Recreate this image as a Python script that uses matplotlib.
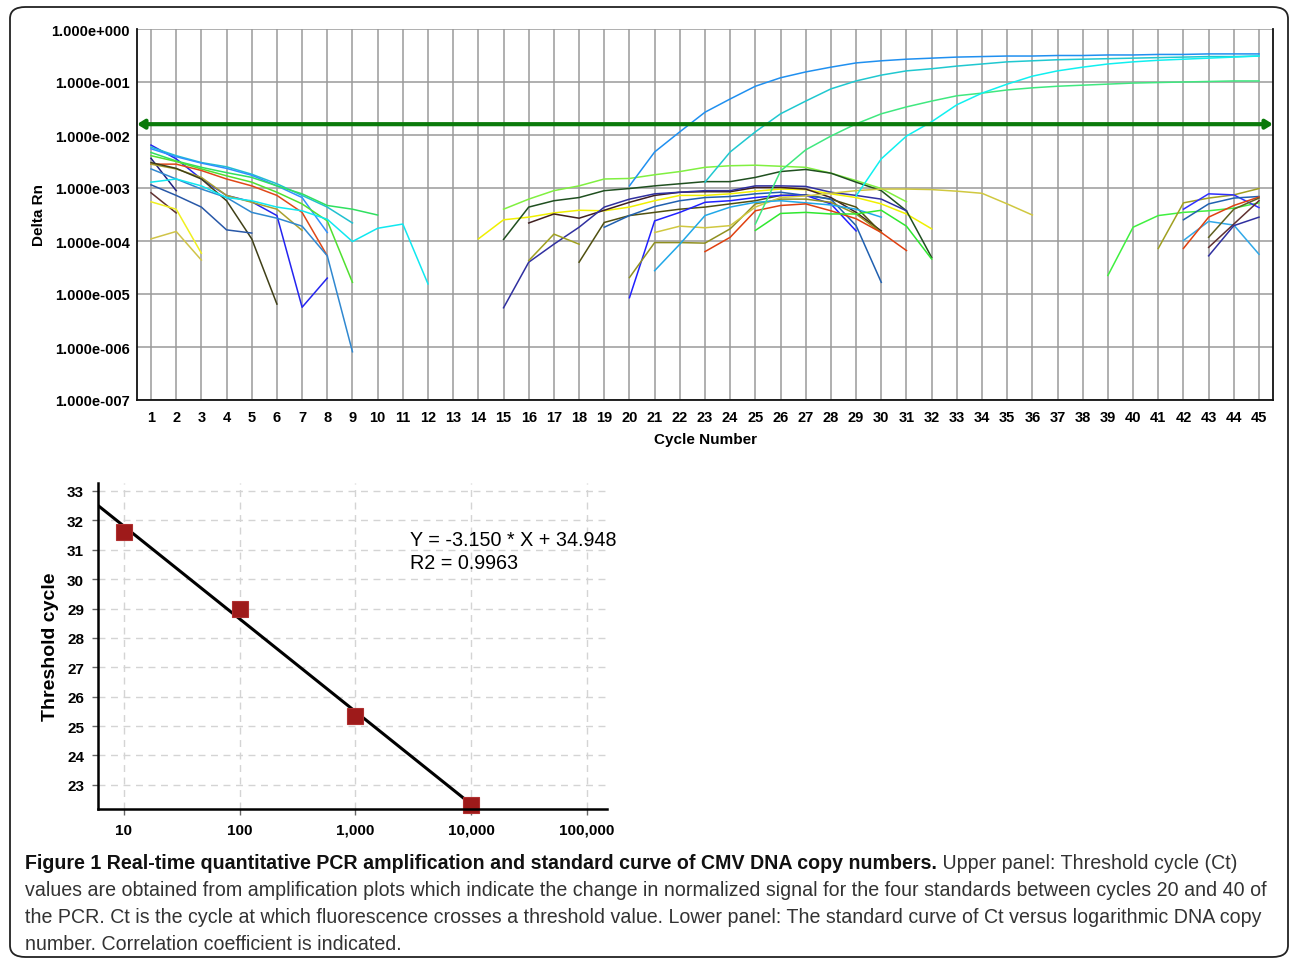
import numpy as np
import matplotlib
matplotlib.use("Agg")
import matplotlib.pyplot as plt
from matplotlib.patches import FancyBboxPatch
from matplotlib.ticker import FixedLocator, FuncFormatter

# ---------------- data: upper panel (log10 Delta Rn), (start cycle, values) ----------------
cycles = np.arange(1, 46)
threshold = 0.016

# amplification curves of the standards
amp_blue = (20, [-2.96, -2.32, -1.94, -1.57, -1.32, -1.08, -0.92, -0.81, -0.72, -0.64, -0.60, -0.57,
                 -0.55, -0.53, -0.52, -0.51, -0.51, -0.50, -0.50, -0.49, -0.49, -0.48, -0.48, -0.47,
                 -0.47, -0.47])
amp_teal = (23, [-2.89, -2.32, -1.94, -1.60, -1.36, -1.13, -0.98, -0.87, -0.79, -0.75, -0.70, -0.66,
                 -0.62, -0.60, -0.58, -0.57, -0.56, -0.55, -0.54, -0.53, -0.52, -0.52, -0.51])
amp_green = (25, [-3.68, -2.68, -2.28, -2.02, -1.79, -1.60, -1.47, -1.36, -1.26, -1.21, -1.15, -1.11,
                  -1.08, -1.06, -1.04, -1.02, -1.01, -1.00, -0.99, -0.98, -0.98])
amp_cyan = (29, [-3.15, -2.45, -2.02, -1.75, -1.43, -1.21, -1.04, -0.89, -0.79, -0.72, -0.66, -0.62,
                 -0.59, -0.57, -0.55, -0.53, -0.51])

# baseline noise, early cycles
early_blue = (1, [-2.19, -2.45, -2.83, -3.14, -3.26, -3.52, -5.25, -4.70])
early_navy = (1, [-2.44, -3.05])
early_teal = (1, [-2.23, -2.39, -2.52, -2.60, -2.74, -2.92, -3.14, -3.36, -3.66])
early_azure = (1, [-2.26, -2.41, -2.53, -2.63, -2.76, -2.96, -3.18, -3.84])
early_green = (1, [-2.33, -2.49, -2.61, -2.71, -2.80, -2.96, -3.11, -3.33, -3.40, -3.51])
early_lime = (1, [-2.39, -2.50, -2.64, -2.77, -2.89, -3.08, -3.30, -3.62, -4.78])
early_red = (1, [-2.55, -2.55, -2.67, -2.83, -2.96, -3.14, -3.46, -4.28])
early_olive = (1, [-2.55, -2.64, -2.80, -3.14, -3.27, -3.40, -3.80])
early_dkolive = (1, [-2.52, -2.63, -2.83, -3.24, -3.96, -5.19])
early_steel = (1, [-2.64, -2.83, -3.02, -3.18, -3.46, -3.57, -3.72, -4.28, -6.09])
early_cyan = (1, [-2.89, -2.83, -2.96, -3.18, -3.24, -3.36, -3.43, -3.59, -4.01, -3.76, -3.68, -4.81])
early_dksteel = (1, [-2.94, -3.14, -3.36, -3.79, -3.85])
early_maroon = (1, [-3.09, -3.47])
early_yellow = (1, [-3.26, -3.40, -4.23])
early_khaki = (1, [-3.96, -3.82, -4.36])

# baseline noise, middle cycles
mid_yellow = (14, [-3.96, -3.60, -3.55, -3.47, -3.42, -3.43, -3.36, -3.24, -3.14, -3.14, -3.11, -3.06,
                   -3.02, -3.03, -3.11, -3.18, -3.30, -3.49, -3.77])
mid_lime = (15, [-3.40, -3.21, -3.05, -2.96, -2.83, -2.82, -2.75, -2.69, -2.61, -2.58, -2.57, -2.59,
                 -2.61, -2.72, -2.86, -3.01, -3.26])
mid_dkgreen = (15, [-3.97, -3.36, -3.24, -3.18, -3.05, -3.01, -2.96, -2.92, -2.88, -2.88, -2.80, -2.69,
                    -2.65, -2.72, -2.89, -3.05, -3.43, -4.31])
mid_maroon = (16, [-3.66, -3.49, -3.57, -3.42, -3.27, -3.14, -3.08, -3.07, -3.07, -2.99, -2.99, -3.02,
                   -3.18, -3.46, -3.81])
mid_navy = (15, [-5.26, -4.40, -4.06, -3.74, -3.36, -3.21, -3.11, -3.08, -3.05, -3.05, -2.96, -2.96,
                 -2.97, -3.08, -3.14, -3.21, -3.43])
mid_olive = (16, [-4.37, -3.87, -4.06])
mid_dkolive = (18, [-4.40, -3.65, -3.52, -3.46, -3.40, -3.36, -3.30, -3.24, -3.14, -3.13, -3.21, -3.36,
                    -3.84])
mid_steel = (19, [-3.74, -3.52, -3.35, -3.24, -3.18, -3.16, -3.11, -3.08, -3.14, -3.21, -3.71, -4.78])
mid_blue = (20, [-5.07, -3.62, -3.46, -3.27, -3.24, -3.18, -3.14, -3.14, -3.30, -3.81])
mid_olive2 = (20, [-4.69, -4.03, -4.03, -4.04, -3.77, -3.30, -3.21, -3.21, -3.27, -3.49, -3.84])
mid_khaki = (21, [-3.84, -3.72, -3.75, -3.71, -3.36, -3.18, -3.15, -3.10, -3.05, -3.02, -3.02, -3.03,
                  -3.06, -3.10, -3.30, -3.51])
mid_azure = (21, [-4.56, -4.06, -3.52, -3.36, -3.27, -3.24, -3.28, -3.32, -3.40, -3.55])
mid_red = (23, [-4.20, -3.93, -3.43, -3.33, -3.30, -3.43, -3.58, -3.84, -4.18])
mid_green = (25, [-3.80, -3.48, -3.46, -3.49, -3.49, -3.42, -3.72, -4.34])

# baseline noise, late cycles
late_green = (39, [-4.65, -3.74, -3.52, -3.46, -3.43, -3.38, -3.28])
late_olive = (41, [-4.14, -3.28, -3.19, -3.13, -3.01])
late_blue = (42, [-3.40, -3.11, -3.13, -3.37])
late_steel = (42, [-3.60, -3.30, -3.19, -3.16])
late_azure = (42, [-3.99, -3.63, -3.70, -4.25])
late_red = (42, [-4.14, -3.55, -3.33, -3.17])
late_dkolive = (43, [-3.93, -3.40, -3.19])
late_maroon = (43, [-4.12, -3.68, -3.24])
late_navy = (43, [-4.28, -3.71, -3.55])

traces = [early_blue, early_navy, early_teal, early_azure, early_green, early_lime, early_red,
          early_olive, early_dkolive, early_steel, early_cyan, early_dksteel, early_maroon,
          early_yellow, early_khaki,
          mid_yellow, mid_lime, mid_dkgreen, mid_maroon, mid_navy, mid_olive, mid_dkolive,
          mid_steel, mid_blue, mid_olive2, mid_khaki, mid_azure, mid_red, mid_green,
          late_green, late_olive, late_blue, late_steel, late_azure, late_red, late_dkolive,
          late_maroon, late_navy,
          amp_blue, amp_teal, amp_green, amp_cyan]
trace_colors = ['#2424f0', '#202080', '#20c0d0', '#3090ff', '#30e060', '#50e030', '#e04818',
                '#a8a030', '#404018', '#3088d0', '#10e8f0', '#2858a8', '#603030',
                '#f0f020', '#d0c448',
                '#f0f000', '#80f040', '#205020', '#402020', '#3030a0', '#a0a020', '#505010',
                '#2060b0', '#2020ff', '#909020', '#d0c840', '#20a8e8', '#e04010', '#30e830',
                '#40f040', '#a0a020', '#3030ff', '#2060b0', '#30a8e8', '#e04010', '#606020',
                '#603030', '#3030a0',
                '#2090f0', '#20c8d0', '#40e880', '#10f0f0']

# ---------------- data: lower panel ----------------
copies = [10, 100, 1000, 10000]
ct_values = [31.6, 29.0, 25.35, 22.3]
slope = -3.150
intercept = 34.948
r2 = 0.9963

# ---------------- figure ----------------
fig = plt.figure(figsize=(12.9, 9.62), dpi=100)

frame = FancyBboxPatch((10 / 1290, 4 / 962), 1278 / 1290, 950 / 962,
                       boxstyle="round,pad=0,rounding_size=0.012",
                       transform=fig.transFigure, fill=False, ec='#222222', lw=1.3)
fig.patches.append(frame)

# upper panel
ax = fig.add_axes([137 / 1290, 1 - 401 / 962, 1136 / 1290, 371 / 962])
for (start, vals), col in zip(traces, trace_colors):
    x = np.arange(start, start + len(vals))
    ax.plot(x, 10 ** np.array(vals), color=col, lw=1.1)

ax.set_yscale('log')
ax.set_xlim(0.444, 45.556)
ax.set_ylim(1e-7, 1)
ax.xaxis.set_major_locator(FixedLocator(cycles))
ax.yaxis.set_major_locator(FixedLocator([10.0 ** e for e in range(-7, 1)]))
ax.yaxis.set_minor_locator(FixedLocator([]))
ax.yaxis.set_major_formatter(FuncFormatter(lambda v, p: "1.000e%+04d" % round(np.log10(v))))
ax.grid(True, color='#9a9a9a', lw=1.1)
ax.set_axisbelow(True)
ax.tick_params(axis='y', length=0, labelsize=10.5, pad=5)
ax.tick_params(axis='x', length=0, labelsize=10.5, pad=7)
for lab in ax.get_xticklabels() + ax.get_yticklabels():
    lab.set_fontweight('bold')
    lab.set_family('Liberation Sans')
ax.spines['top'].set_visible(False)
for s in ['left', 'bottom', 'right']:
    ax.spines[s].set_color('#111111')
    ax.spines[s].set_linewidth(1.3)
ax.set_xlabel('Cycle Number', fontsize=11, family='Liberation Sans', fontweight='bold', labelpad=6)
ax.set_ylabel('Delta Rn', fontsize=11, family='Liberation Sans', fontweight='bold', labelpad=4)
ax.annotate('', xy=(45.556, threshold), xytext=(0.444, threshold),
            arrowprops=dict(arrowstyle='<|-|>,head_length=0.4,head_width=0.25',
                            color='#0a7a0a', lw=3, shrinkA=0, shrinkB=0))

# lower panel
bx = fig.add_axes([98 / 1290, 1 - 810 / 962, 509 / 1290, 326 / 962])
bx.set_xscale('log')
bx.set_xlim(5.96, 1.5e5)
bx.set_ylim(22.18, 33.27)
xfit = np.array(bx.get_xlim())
bx.plot(xfit, slope * np.log10(xfit) + intercept, color='black', lw=2.2)
bx.plot(copies, ct_values, 's', color='#9e1a1a', ms=11, mec='#b03030', mew=0.8, clip_on=False)
bx.set_xticks([10, 100, 1000, 10000, 100000])
bx.xaxis.set_minor_locator(FixedLocator([]))
bx.set_xticklabels(['10', '100', '1,000', '10,000', '100,000'])
bx.set_yticks(range(23, 34))
bx.grid(True, color='#d4d4d4', ls=(0, (5, 4)), lw=1)
bx.set_axisbelow(True)
for s in ['top', 'right']:
    bx.spines[s].set_visible(False)
for s in ['left', 'bottom']:
    bx.spines[s].set_linewidth(1.8)
bx.tick_params(labelsize=11, length=4, width=1, color='#666666', pad=6)
for lab in bx.get_xticklabels() + bx.get_yticklabels():
    lab.set_fontweight('bold')
    lab.set_family('Liberation Sans')
bx.set_ylabel('Threshold cycle', fontsize=14, fontweight='bold', family='Liberation Sans', labelpad=6)
bx.text(0.612, 0.855, "Y = %.3f * X + %.3f\nR2 = %.4f" % (slope, intercept, r2),
        transform=bx.transAxes, fontsize=14.2, family='Liberation Sans', va='top', linespacing=1.22)

# caption
renderer = fig.canvas.get_renderer()
cap_font = dict(family='Liberation Sans', fontsize=14.1, va='baseline')
bold_part = "Figure 1 Real-time quantitative PCR amplification and standard curve of CMV DNA copy numbers."
lines = [" Upper panel: Threshold cycle (Ct)",
         "values are obtained from amplification plots which indicate the change in normalized signal "
         "for the four standards between cycles 20 and 40 of",
         "the PCR. Ct is the cycle at which fluorescence crosses a threshold value. Lower panel: The "
         "standard curve of Ct versus logarithmic DNA copy",
         "number. Correlation coefficient is indicated."]
baselines = [869, 896, 923, 950]
t = fig.text(25 / 1290, 1 - baselines[0] / 962, bold_part, fontweight='bold', color='#111111', **cap_font)
bb = t.get_window_extent(renderer)
fig.text(bb.x1 / 1290, 1 - baselines[0] / 962, lines[0], color='#333333', **cap_font)
for ln, yb in zip(lines[1:], baselines[1:]):
    fig.text(25 / 1290, 1 - yb / 962, ln, color='#333333', **cap_font)

fig.savefig('out.png', dpi=100)
